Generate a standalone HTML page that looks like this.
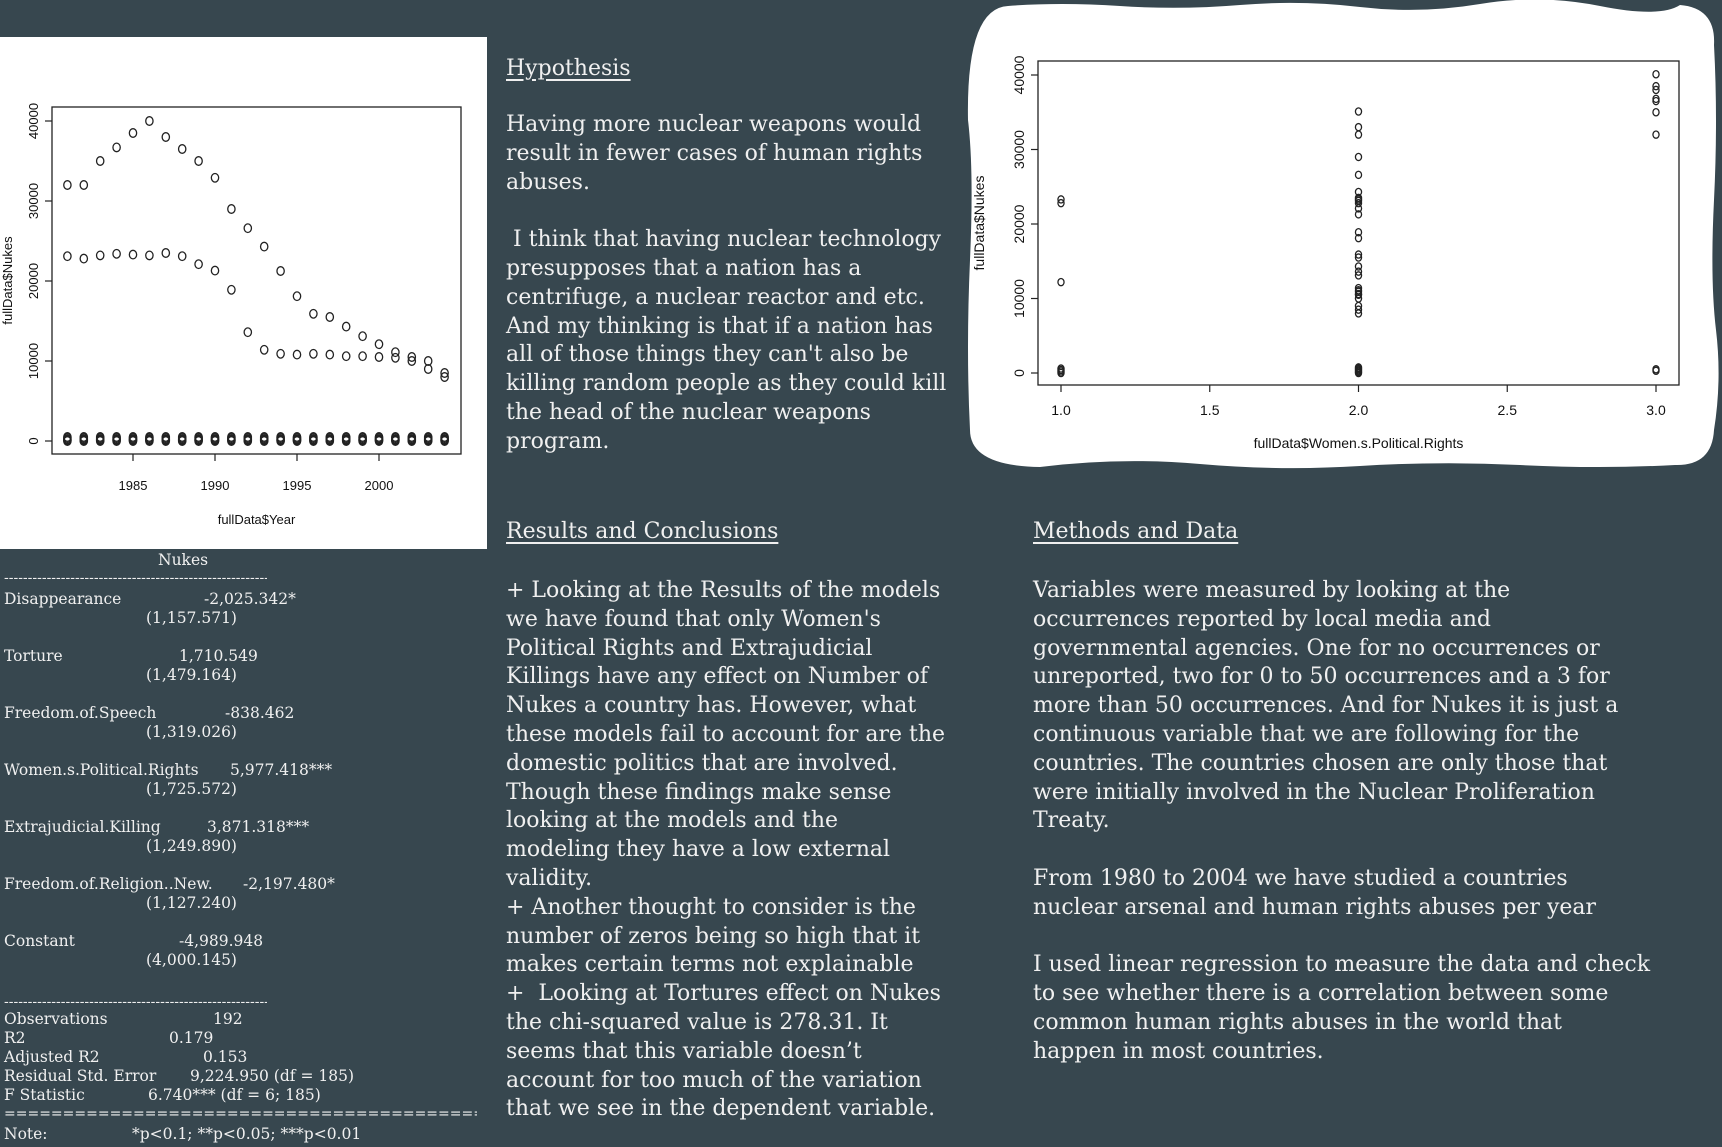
<!DOCTYPE html>
<html><head><meta charset="utf-8"><style>
html,body{margin:0;padding:0;}
body{width:1722px;height:1147px;background:#37474f;position:relative;overflow:hidden;font-family:"DejaVu Serif","Liberation Serif",serif;color:#f0f0f0;}
.t{position:absolute;white-space:nowrap;}
.big{font-size:22px;line-height:28.8px;}
.h{text-decoration:underline;text-underline-offset:4px;}
.tb{font-size:15.5px;position:absolute;white-space:nowrap;line-height:19px;}
.rule{position:absolute;overflow:hidden;white-space:nowrap;font-size:14px;line-height:16px;}
svg{position:absolute;left:0;top:0;}
</style></head><body>
<svg width="1722" height="1147">
  <rect x="0" y="37" width="487" height="512" fill="#fff"/>
  <path d="M1008 6 Q1060 2 1120 6 T1240 5 T1360 7 T1480 4 T1600 6 T1680 5 Q1716 8 1714 45 Q1718 120 1714 200 T1716 330 T1714 430 Q1712 466 1675 465 Q1600 469 1520 465 T1360 466 T1200 464 T1040 467 Q970 466 970 430 Q966 350 970 260 T968 120 Q966 8 1008 6 Z" fill="#fff"/>
  <g id="left"></g>
  <g id="right"></g>
</svg>

<div class="t big h" style="left:506px;top:55px;">Hypothesis</div>
<div class="t big" style="left:506px;top:111px;">Having more nuclear weapons would<br>result in fewer cases of human rights<br>abuses.<br><br>&nbsp;I think that having nuclear technology<br>presupposes that a nation has a<br>centrifuge, a nuclear reactor and etc.<br>And my thinking is that if a nation has<br>all of those things they can't also be<br>killing random people as they could kill<br>the head of the nuclear weapons<br>program.</div>

<div class="t big h" style="left:506px;top:518px;">Results and Conclusions</div>
<div class="t big" style="left:506px;top:577px;">+ Looking at the Results of the models<br>we have found that only Women's<br>Political Rights and Extrajudicial<br>Killings have any effect on Number of<br>Nukes a country has. However, what<br>these models fail to account for are the<br>domestic politics that are involved.<br>Though these findings make sense<br>looking at the models and the<br>modeling they have a low external<br>validity.<br>+ Another thought to consider is the<br>number of zeros being so high that it<br>makes certain terms not explainable<br>+&nbsp; Looking at Tortures effect on Nukes<br>the chi-squared value is 278.31. It<br>seems that this variable doesn’t<br>account for too much of the variation<br>that we see in the dependent variable.</div>

<div class="t big h" style="left:1033px;top:518px;">Methods and Data</div>
<div class="t big" style="left:1033px;top:577px;">Variables were measured by looking at the<br>occurrences reported by local media and<br>governmental agencies. One for no occurrences or<br>unreported, two for 0 to 50 occurrences and a 3 for<br>more than 50 occurrences. And for Nukes it is just a<br>continuous variable that we are following for the<br>countries. The countries chosen are only those that<br>were initially involved in the Nuclear Proliferation<br>Treaty.<br><br>From 1980 to 2004 we have studied a countries<br>nuclear arsenal and human rights abuses per year<br><br>I used linear regression to measure the data and check<br>to see whether there is a correlation between some<br>common human rights abuses in the world that<br>happen in most countries.</div>

<div>
<div class="tb" style="left:158px;top:551px;">Nukes</div>
<div class="rule" style="left:4px;top:570px;width:263px;">----------------------------------------------------------------------------------</div>
<div class="tb" style="left:4px;top:590px;">Disappearance</div><div class="tb" style="left:204px;top:590px;">-2,025.342*</div><div class="tb" style="left:146px;top:609px;">(1,157.571)</div>
<div class="tb" style="left:4px;top:647px;">Torture</div><div class="tb" style="left:179px;top:647px;">1,710.549</div><div class="tb" style="left:146px;top:666px;">(1,479.164)</div>
<div class="tb" style="left:4px;top:704px;">Freedom.of.Speech</div><div class="tb" style="left:225px;top:704px;">-838.462</div><div class="tb" style="left:146px;top:723px;">(1,319.026)</div>
<div class="tb" style="left:4px;top:761px;">Women.s.Political.Rights</div><div class="tb" style="left:230px;top:761px;">5,977.418***</div><div class="tb" style="left:146px;top:780px;">(1,725.572)</div>
<div class="tb" style="left:4px;top:818px;">Extrajudicial.Killing</div><div class="tb" style="left:207px;top:818px;">3,871.318***</div><div class="tb" style="left:146px;top:837px;">(1,249.890)</div>
<div class="tb" style="left:4px;top:875px;">Freedom.of.Religion..New.</div><div class="tb" style="left:243px;top:875px;">-2,197.480*</div><div class="tb" style="left:146px;top:894px;">(1,127.240)</div>
<div class="tb" style="left:4px;top:932px;">Constant</div><div class="tb" style="left:179px;top:932px;">-4,989.948</div><div class="tb" style="left:146px;top:951px;">(4,000.145)</div>
<div class="rule" style="left:4px;top:994px;width:263px;">----------------------------------------------------------------------------------</div>
<div class="tb" style="left:4px;top:1010px;">Observations</div><div class="tb" style="left:213px;top:1010px;">192</div>
<div class="tb" style="left:4px;top:1029px;">R2</div><div class="tb" style="left:169px;top:1029px;">0.179</div>
<div class="tb" style="left:4px;top:1048px;">Adjusted R2</div><div class="tb" style="left:203px;top:1048px;">0.153</div>
<div class="tb" style="left:4px;top:1067px;">Residual Std. Error</div><div class="tb" style="left:190px;top:1067px;">9,224.950 (df = 185)</div>
<div class="tb" style="left:4px;top:1086px;">F Statistic</div><div class="tb" style="left:148px;top:1086px;">6.740*** (df = 6; 185)</div>
<div class="rule" style="left:4px;top:1106px;width:473px;">==================================================================</div>
<div class="tb" style="left:4px;top:1125px;">Note:</div><div class="tb" style="left:132px;top:1125px;">*p&lt;0.1; **p&lt;0.05; ***p&lt;0.01</div>
</div>

<script>
const years=[1981,1982,1983,1984,1985,1986,1987,1988,1989,1990,1991,1992,1993,1994,1995,1996,1997,1998,1999,2000,2001,2002,2003,2004];
const seriesA=[32000,32000,35000,36700,38500,40000,38000,36500,35000,32900,29000,26600,24300,21250,18100,15900,15500,14300,13100,12100,11100,10500,10000,8500];
const seriesB=[23100,22800,23200,23400,23300,23200,23500,23100,22100,21300,18900,13600,11400,10900,10800,10900,10800,10600,10600,10500,10400,10000,9000,8000];
const lowCluster=[0,100,200,350,500];
const leftXTicks=[1985,1990,1995,2000];
const yTicks=[0,10000,20000,30000,40000];
const rightXTicks=[1.0,1.5,2.0,2.5,3.0];
const rightGroup1=[23300,22800,12200,0,200,400,600];
const rightGroup2=[35100,33000,32000,29000,26600,24300,23500,23300,23100,22800,22100,21300,18900,18100,15900,15500,14300,13600,13100,11400,11100,10900,10600,10500,10000,9000,8500,8000,0,150,300,450,600,750];
const rightGroup3=[40100,38500,38000,36800,36500,35000,32000,300,500];
const NS='http://www.w3.org/2000/svg';
function mk(p,tag,a){const e=document.createElementNS(NS,tag);for(const k in a)e.setAttribute(k,a[k]);p.appendChild(e);return e;}
function drawChart(g,o){
  const sx=v=>o.x0+(v-o.xa)*(o.x1-o.x0)/(o.xb-o.xa);
  const sy=v=>o.y0+(v)*(o.y1-o.y0)/40000;
  const box=mk(g,'rect',{x:o.bx0,y:o.by0,width:o.bx1-o.bx0,height:o.by1-o.by0,fill:'none',stroke:'#222','stroke-width':1.3});
  
  
  o.xt.forEach(v=>{
    const l=mk(g,'line',{x1:sx(v),x2:sx(v),y1:o.by1,y2:o.by1+7,stroke:'#222','stroke-width':1.2});
    
    
    const t=mk(g,'text',{x:sx(v),y:o.by1+o.xlOff,'text-anchor':'middle','font-size':o.fs,'font-family':'Liberation Sans, sans-serif',fill:'#111'});
    t.textContent=o.fmt(v);
    
    
  });
  yTicks.forEach(v=>{
    const l=mk(g,'line',{x1:o.bx0-7,x2:o.bx0,y1:sy(v),y2:sy(v),stroke:'#222','stroke-width':1.2});
    
    
    const tx=o.bx0-14;
    const t=mk(g,'text',{x:tx,y:sy(v),transform:`rotate(-90 ${tx} ${sy(v)})`,'text-anchor':'middle','font-size':o.fs,'font-family':'Liberation Sans, sans-serif',fill:'#111'});
    t.textContent=String(v);
    
    
  });
  const xt=mk(g,'text',{x:(o.bx0+o.bx1)/2,y:o.xtY,'text-anchor':'middle','font-size':o.fs,'font-family':'Liberation Sans, sans-serif',fill:'#111'});
  xt.textContent=o.xTitle;
  
  
  const yy=(o.by0+o.by1)/2;
  const yt=mk(g,'text',{x:o.ytX,y:yy,transform:`rotate(-90 ${o.ytX} ${yy})`,'text-anchor':'middle','font-size':o.fs,'font-family':'Liberation Sans, sans-serif',fill:'#111'});
  yt.textContent='fullData$Nukes';
  
  
  return {sx,sy};
}
function pt(g,x,y,r){
  const c=mk(g,'ellipse',{cx:x,cy:y,rx:r*0.85,ry:r,fill:'none',stroke:'#222','stroke-width':1.3});
  
  
}
const L=document.getElementById('left');
const la=drawChart(L,{xa:1985,xb:2000,x0:133,x1:379,y0:441,y1:121,bx0:52,bx1:461,by0:107,by1:454,xt:leftXTicks,fmt:v=>String(v),fs:13,xlOff:36,xtY:524,ytX:12,xTitle:'fullData$Year'});
years.forEach((yr,i)=>{
  pt(L,la.sx(yr),la.sy(seriesA[i]),4.3);
  pt(L,la.sx(yr),la.sy(seriesB[i]),4.3);
  lowCluster.forEach(v=>pt(L,la.sx(yr),la.sy(v),4.3));
});
const R=document.getElementById('right');
const ra=drawChart(R,{xa:1,xb:3,x0:1061,x1:1656,y0:373,y1:75,bx0:1038,bx1:1679,by0:61,by1:385,xt:rightXTicks,fmt:v=>v.toFixed(1),fs:14,xlOff:30,xtY:448,ytX:984,xTitle:'fullData$Women.s.Political.Rights'});
rightGroup1.forEach(v=>pt(R,ra.sx(1),ra.sy(v),3.6));
rightGroup2.forEach(v=>pt(R,ra.sx(2),ra.sy(v),3.6));
rightGroup3.forEach(v=>pt(R,ra.sx(3),ra.sy(v),3.6));
</script>
</body></html>
